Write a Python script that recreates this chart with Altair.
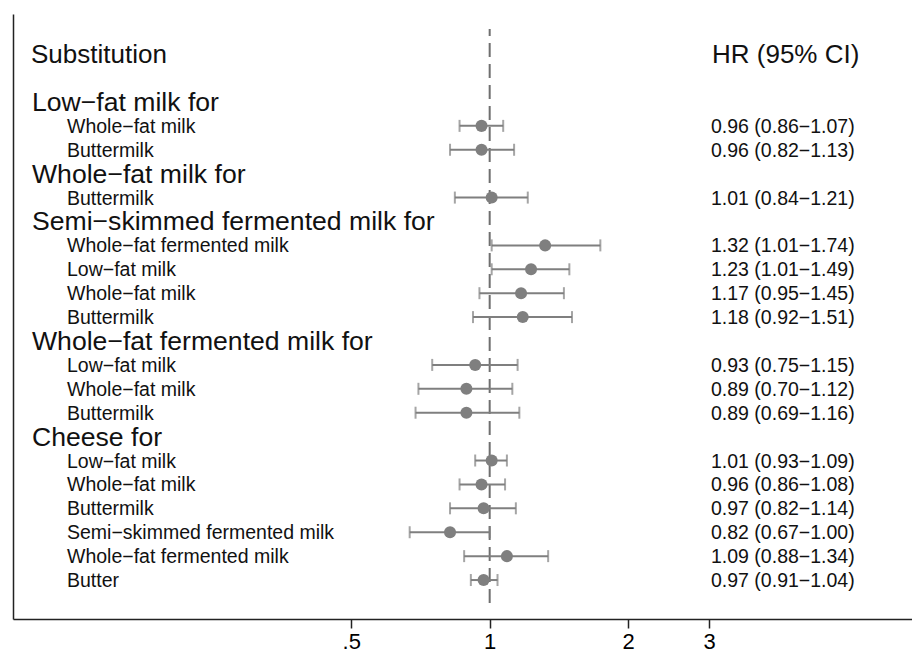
import altair as alt
import pandas as pd

# ---- data ----
labels = [
    "Low−fat milk for", "Whole−fat milk", "Buttermilk",
    "Whole−fat milk for", "Buttermilk",
    "Semi−skimmed fermented milk for", "Whole−fat fermented milk", "Low−fat milk", "Whole−fat milk", "Buttermilk",
    "Whole−fat fermented milk for", "Low−fat milk", "Whole−fat milk", "Buttermilk",
    "Cheese for", "Low−fat milk", "Whole−fat milk", "Buttermilk", "Semi−skimmed fermented milk",
    "Whole−fat fermented milk", "Butter",
]
is_header = [True, False, False, True, False, True, False, False, False, False,
             True, False, False, False, True, False, False, False, False, False, False]

hr = [0.96, 0.96, 1.01, 1.32, 1.23, 1.17, 1.18, 0.93, 0.89, 0.89,
      1.01, 0.96, 0.97, 0.82, 1.09, 0.97]
lo = [0.86, 0.82, 0.84, 1.01, 1.01, 0.95, 0.92, 0.75, 0.70, 0.69,
      0.93, 0.86, 0.82, 0.67, 0.88, 0.91]
hi = [1.07, 1.13, 1.21, 1.74, 1.49, 1.45, 1.51, 1.15, 1.12, 1.16,
      1.09, 1.08, 1.14, 1.00, 1.34, 1.04]

tick_values = [0.5, 1, 2, 3]
tick_labels = [".5", "1", "2", "3"]

# ---- build tables ----
rows = pd.DataFrame({"row": list(range(len(labels))), "label": labels, "header": is_header})
item_rows = [r for r, h in zip(range(len(labels)), is_header) if not h]
est = pd.DataFrame({"row": item_rows, "hr": hr, "lo": lo, "hi": hi})
est["txt"] = [f"{a:.2f} ({b:.2f}−{c:.2f})" for a, b, c in zip(hr, lo, hi)]
heads = pd.DataFrame({"row": [-2, -2], "label": ["Substitution", "HR (95% CI)"], "col": ["left", "right"]})

W, H = 899, 605
xscale = alt.Scale(type="log", domain=[0.092, 8.28], nice=False, zero=False)
yscale = alt.Scale(domain=[-3.68, 21.63], reverse=True, nice=False, zero=False)
GRAY = "#7f7f7f"
FONT = "Liberation Sans"

label_map = "{" + ", ".join(f"'{v}': '{t}'" for v, t in zip(tick_values, tick_labels)) + "}"
label_expr = f"{label_map}[datum.value + ''] || datum.label"

x_axis = alt.Axis(values=tick_values, labelExpr=label_expr, grid=False, title=None,
                  domainColor="#222", domainWidth=1.5, tickColor="#222", tickWidth=1.5,
                  tickSize=9, labelFontSize=22, labelFont=FONT, labelColor="#000",
                  labelPadding=3)
y_axis = alt.Axis(domain=True, ticks=False, labels=False, grid=False, title=None,
                  domainColor="#222", domainWidth=1.5)

def X(field):
    return alt.X(f"{field}:Q", scale=xscale, axis=x_axis)

Y = alt.Y("row:Q", scale=yscale, axis=y_axis)

ref = alt.Chart(pd.DataFrame({"v": [1], "row": [0]})).mark_rule(
    color="#6f6f6f", strokeWidth=2, strokeDash=[14, 7], strokeDashOffset=7
).encode(
    x=X("v"),
    y=alt.value(15), y2=alt.value(589),
)
yaxis_layer = alt.Chart(pd.DataFrame({"v": [1], "row": [0]})).mark_point(opacity=0).encode(
    x=X("v"), y=Y,
)

bars = alt.Chart(est).mark_rule(color=GRAY, strokeWidth=2).encode(x=X("lo"), x2="hi:Q", y=Y)
cap_lo = alt.Chart(est).mark_tick(color=GRAY, orient="vertical", size=12, thickness=2).encode(x=X("lo"), y=Y)
cap_hi = alt.Chart(est).mark_tick(color=GRAY, orient="vertical", size=12, thickness=2).encode(x=X("hi"), y=Y)
pts = alt.Chart(est).mark_circle(color=GRAY, opacity=1, size=145).encode(x=X("hr"), y=Y)

def txt(df, xpix, size, field):
    return alt.Chart(df).mark_text(
        align="left", baseline="middle", font=FONT, fontSize=size, color="#111", dy=1
    ).encode(x=alt.value(xpix), y=Y, text=f"{field}:N")

head_txt = txt(rows[rows.header], 19, 26.6, "label")
item_txt = txt(rows[~rows.header], 54, 19.5, "label")
hr_txt = txt(est, 698, 19.5, "txt")
top_left = txt(heads[heads.col == "left"], 18, 26, "label")
top_right = txt(heads[heads.col == "right"], 699, 26, "label")

chart = alt.layer(ref, yaxis_layer, bars, cap_lo, cap_hi, pts, head_txt, item_txt, hr_txt,
                  top_left, top_right).properties(
    width=W, height=H,
    background="white",
    autosize=alt.AutoSizeParams(type="none"),
    padding={"left": 5, "top": 6, "right": 0, "bottom": 40},
).configure_view(stroke=None)

chart.save("out.html", embed_options={"renderer": "svg", "actions": False})
